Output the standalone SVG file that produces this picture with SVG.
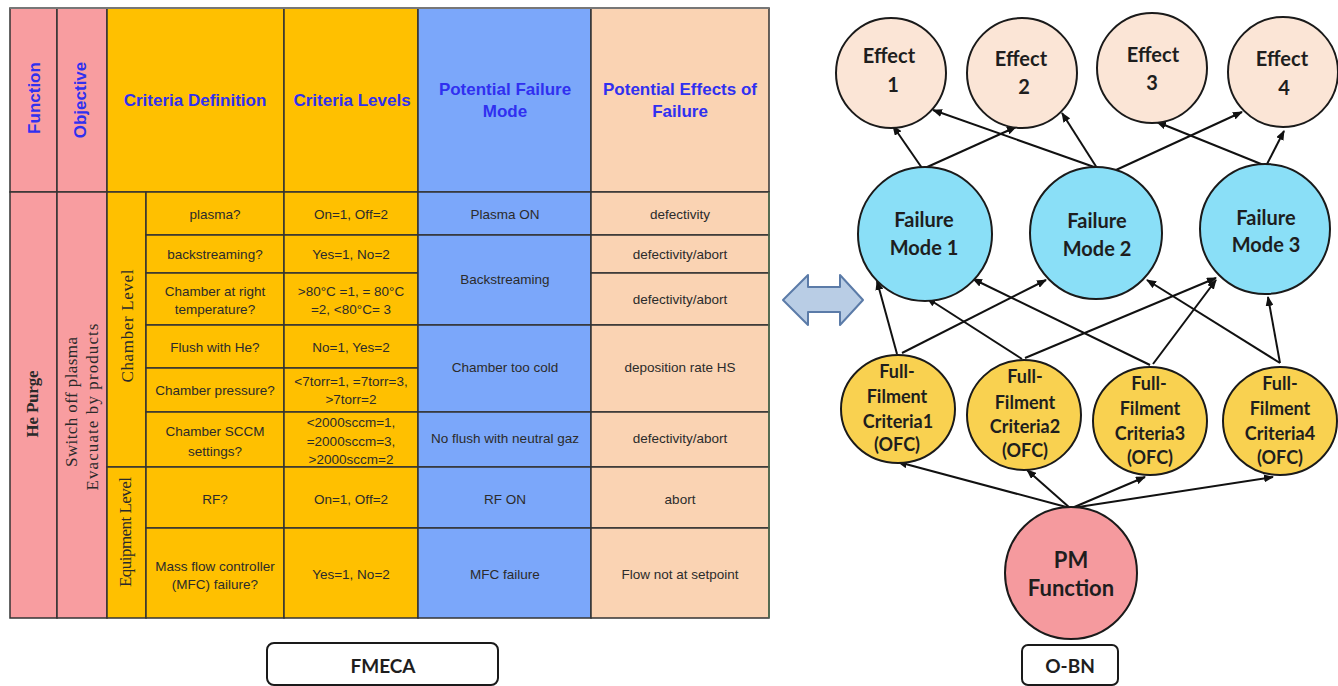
<svg xmlns="http://www.w3.org/2000/svg" width="1338" height="686" viewBox="0 0 1338 686">
<defs>
<style>
.pink{fill:#F89DA0;stroke:#333;stroke-width:1.5}
.gold{fill:#FFC000;stroke:#333;stroke-width:1.5}
.blue{fill:#7BA7FA;stroke:#333;stroke-width:1.5}
.peach{fill:#FAD3B3;stroke:#333;stroke-width:1.5}
.hdr{font-family:"Liberation Sans",Arial,sans-serif;font-weight:bold;font-size:17px;fill:#3030F0;text-anchor:middle}
.cell{font-family:"Liberation Sans",Arial,sans-serif;font-size:13.5px;fill:#2b2b2b;text-anchor:middle}
.rot{font-family:"Liberation Serif","Times New Roman",serif;font-size:17px;fill:#2a2a2a;text-anchor:middle}
.node{stroke:#1a1a1a;stroke-width:2}
.nt{font-family:Lato,"Noto Sans",sans-serif;font-weight:bold;fill:#1e1e1e;text-anchor:middle}
.eff{fill:#FBE5D6}
.fm{fill:#8ADFF7}
.fc{fill:#F9D150}
.pm{fill:#F59A9E}
.edge{stroke:#111;stroke-width:2;fill:none;marker-end:url(#ah)}
.lbl{fill:#fff;stroke:#1a1a1a;stroke-width:2}
</style>
<marker id="ah" markerUnits="userSpaceOnUse" markerWidth="10" markerHeight="8" refX="9" refY="4" orient="auto">
<path d="M0,0 L10,4 L0,8 z" fill="#111"/>
</marker>
</defs>
<rect width="1338" height="686" fill="#fff"/>

<g id="fmeca-table">
<rect class="pink" x="10" y="8" width="47" height="184"/>
<rect class="pink" x="57" y="8" width="50" height="184"/>
<rect class="gold" x="107" y="8" width="177" height="184"/>
<rect class="gold" x="284" y="8" width="134" height="184"/>
<rect class="blue" x="418" y="8" width="173" height="184"/>
<rect class="peach" x="591" y="8" width="178" height="184"/>
<text class="hdr" transform="translate(40,98) rotate(-90)">Function</text>
<text class="hdr" transform="translate(86,100) rotate(-90)">Objective</text>
<text class="hdr" x="195" y="106">Criteria Definition</text>
<text class="hdr" x="352" y="106">Criteria Levels</text>
<text class="hdr" x="505" y="95">Potential Failure</text>
<text class="hdr" x="505" y="117">Mode</text>
<text class="hdr" x="680" y="95">Potential Effects of</text>
<text class="hdr" x="680" y="117">Failure</text>

<rect class="pink" x="10" y="192" width="47" height="426"/>
<rect class="pink" x="57" y="192" width="50" height="426"/>
<rect class="gold" x="107" y="192" width="39" height="275"/>
<rect class="gold" x="107" y="467" width="39" height="151"/>
<text class="rot" font-weight="bold" font-size="16" textLength="67" transform="translate(38,404) rotate(-90)">He Purge</text>
<text class="rot" textLength="130" transform="translate(77,402) rotate(-90)">Switch off plasma</text>
<text class="rot" textLength="167" transform="translate(98,407) rotate(-90)">Evacuate by products</text>
<text class="rot" textLength="113" transform="translate(133,326) rotate(-90)">Chamber Level</text>
<text class="rot" textLength="110" transform="translate(131,532) rotate(-90)">Equipment Level</text>

<rect class="gold" x="146" y="192" width="138" height="43"/>
<rect class="gold" x="284" y="192" width="134" height="43"/>
<rect class="gold" x="146" y="235" width="138" height="38"/>
<rect class="gold" x="284" y="235" width="134" height="38"/>
<rect class="gold" x="146" y="273" width="138" height="52"/>
<rect class="gold" x="284" y="273" width="134" height="52"/>
<rect class="gold" x="146" y="325" width="138" height="43"/>
<rect class="gold" x="284" y="325" width="134" height="43"/>
<rect class="gold" x="146" y="368" width="138" height="44"/>
<rect class="gold" x="284" y="368" width="134" height="44"/>
<rect class="gold" x="146" y="412" width="138" height="55"/>
<rect class="gold" x="284" y="412" width="134" height="55"/>
<rect class="gold" x="146" y="467" width="138" height="61"/>
<rect class="gold" x="284" y="467" width="134" height="61"/>
<rect class="gold" x="146" y="528" width="138" height="90"/>
<rect class="gold" x="284" y="528" width="134" height="90"/>

<text class="cell" x="215" y="219">plasma?</text>
<text class="cell" x="351" y="219">On=1, Off=2</text>
<text class="cell" x="215" y="259">backstreaming?</text>
<text class="cell" x="351" y="259">Yes=1, No=2</text>
<text class="cell" x="215" y="296">Chamber at right</text>
<text class="cell" x="215" y="314">temperature?</text>
<text class="cell" x="351" y="296">&gt;80°C =1, = 80°C</text>
<text class="cell" x="351" y="314">=2, &lt;80°C= 3</text>
<text class="cell" x="215" y="352">Flush with He?</text>
<text class="cell" x="351" y="352">No=1, Yes=2</text>
<text class="cell" x="215" y="395">Chamber pressure?</text>
<text class="cell" x="351" y="386">&lt;7torr=1, =7torr=3,</text>
<text class="cell" x="351" y="404">&gt;7torr=2</text>
<text class="cell" x="215" y="436">Chamber SCCM</text>
<text class="cell" x="215" y="456">settings?</text>
<text class="cell" x="351" y="427">&lt;2000sccm=1,</text>
<text class="cell" x="351" y="446">=2000sccm=3,</text>
<text class="cell" x="351" y="464">&gt;2000sccm=2</text>
<text class="cell" x="215" y="504">RF?</text>
<text class="cell" x="351" y="504">On=1, Off=2</text>
<text class="cell" x="215" y="571">Mass flow controller</text>
<text class="cell" x="215" y="589">(MFC) failure?</text>
<text class="cell" x="351" y="579">Yes=1, No=2</text>

<rect class="blue" x="418" y="192" width="173" height="43"/>
<rect class="blue" x="418" y="235" width="173" height="90"/>
<rect class="blue" x="418" y="325" width="173" height="87"/>
<rect class="blue" x="418" y="412" width="173" height="55"/>
<rect class="blue" x="418" y="467" width="173" height="61"/>
<rect class="blue" x="418" y="528" width="173" height="90"/>
<text class="cell" x="505" y="219">Plasma ON</text>
<text class="cell" x="505" y="284">Backstreaming</text>
<text class="cell" x="505" y="372">Chamber too cold</text>
<text class="cell" x="505" y="443">No flush with neutral gaz</text>
<text class="cell" x="505" y="504">RF ON</text>
<text class="cell" x="505" y="579">MFC failure</text>

<rect class="peach" x="591" y="192" width="178" height="43"/>
<rect class="peach" x="591" y="235" width="178" height="38"/>
<rect class="peach" x="591" y="273" width="178" height="52"/>
<rect class="peach" x="591" y="325" width="178" height="87"/>
<rect class="peach" x="591" y="412" width="178" height="55"/>
<rect class="peach" x="591" y="467" width="178" height="61"/>
<rect class="peach" x="591" y="528" width="178" height="90"/>
<text class="cell" x="680" y="219">defectivity</text>
<text class="cell" x="680" y="259">defectivity/abort</text>
<text class="cell" x="680" y="304">defectivity/abort</text>
<text class="cell" x="680" y="372">deposition rate HS</text>
<text class="cell" x="680" y="443">defectivity/abort</text>
<text class="cell" x="680" y="504">abort</text>
<text class="cell" x="680" y="579">Flow not at setpoint</text>
<line x1="769" y1="192" x2="769" y2="618" stroke="#4f6f4f" stroke-width="1.5"/>
<line x1="10" y1="8" x2="769" y2="8" stroke="#777" stroke-width="2"/>
</g>

<g id="fmeca-label">
<rect class="lbl" x="267" y="643" width="231" height="42" rx="7"/>
<text class="nt" x="383" y="673" font-size="19">FMECA</text>
</g>

<g id="double-arrow">
<path d="M783,300 L808,275 L808,287 L840,287 L840,275 L863,300 L840,325 L840,312 L808,312 L808,325 Z" fill="#B9CDE5" stroke="#5B7BA8" stroke-width="2" stroke-linejoin="round"/>
</g>

<g id="connectors">
<line class="edge" x1="922" y1="168" x2="893" y2="126"/>
<line class="edge" x1="925" y1="168" x2="1016" y2="127"/>
<line class="edge" x1="1097" y1="168" x2="933" y2="110"/>
<line class="edge" x1="1097" y1="168" x2="1062" y2="113"/>
<line class="edge" x1="1116" y1="170" x2="1242" y2="112"/>
<line class="edge" x1="1266" y1="166" x2="1157" y2="122"/>
<line class="edge" x1="1266" y1="166" x2="1284" y2="131"/>

<line class="edge" x1="897" y1="354" x2="877" y2="281"/>
<line class="edge" x1="902" y1="353" x2="1046" y2="280"/>
<line class="edge" x1="1022" y1="359" x2="927" y2="298"/>
<line class="edge" x1="1025" y1="358" x2="1216" y2="278"/>
<line class="edge" x1="1150" y1="365" x2="973" y2="279"/>
<line class="edge" x1="1153" y1="364" x2="1216" y2="280"/>
<line class="edge" x1="1280" y1="363" x2="1147" y2="280"/>
<line class="edge" x1="1280" y1="363" x2="1268" y2="297"/>

<line class="edge" x1="1070" y1="508" x2="898" y2="462"/>
<line class="edge" x1="1070" y1="508" x2="1027" y2="470"/>
<line class="edge" x1="1072" y1="508" x2="1145" y2="477"/>
<line class="edge" x1="1072" y1="508" x2="1273" y2="477"/>
</g>

<g id="effect1"><circle class="node eff" cx="891" cy="73" r="55"/><text class="nt" font-size="20" x="889" y="63">Effect</text><text class="nt" font-size="20" x="893" y="92">1</text></g>
<g id="effect2"><circle class="node eff" cx="1022" cy="73" r="55"/><text class="nt" font-size="20" x="1021" y="66">Effect</text><text class="nt" font-size="20" x="1024" y="94">2</text></g>
<g id="effect3"><circle class="node eff" cx="1152" cy="68" r="55"/><text class="nt" font-size="20" x="1153" y="62">Effect</text><text class="nt" font-size="20" x="1152" y="90">3</text></g>
<g id="effect4"><circle class="node eff" cx="1283" cy="72" r="55"/><text class="nt" font-size="20" x="1282" y="66">Effect</text><text class="nt" font-size="20" x="1284" y="95">4</text></g>

<g id="failure-mode1"><circle class="node fm" cx="925" cy="234" r="67"/><text class="nt" font-size="20" x="924" y="227">Failure</text><text class="nt" font-size="20" x="924" y="255">Mode 1</text></g>
<g id="failure-mode2"><circle class="node fm" cx="1096" cy="233" r="66"/><text class="nt" font-size="20" x="1097" y="228">Failure</text><text class="nt" font-size="20" x="1097" y="256">Mode 2</text></g>
<g id="failure-mode3"><circle class="node fm" cx="1265" cy="229" r="65"/><text class="nt" font-size="20" x="1266" y="225">Failure</text><text class="nt" font-size="20" x="1266" y="252">Mode 3</text></g>

<g id="fc1"><ellipse class="node fc" cx="898" cy="409" rx="57" ry="54"/>
<text class="nt" font-size="18" x="897" y="378">Full-</text><text class="nt" font-size="18" x="897" y="403">Filment</text><text class="nt" font-size="18" x="898" y="428">Criteria1</text><text class="nt" font-size="18" x="897" y="451">(OFC)</text></g>
<g id="fc2"><ellipse class="node fc" cx="1024" cy="415" rx="57" ry="55"/>
<text class="nt" font-size="18" x="1025" y="383">Full-</text><text class="nt" font-size="18" x="1025" y="409">Filment</text><text class="nt" font-size="18" x="1025" y="433">Criteria2</text><text class="nt" font-size="18" x="1025" y="457">(OFC)</text></g>
<g id="fc3"><ellipse class="node fc" cx="1150" cy="421" rx="57" ry="54"/>
<text class="nt" font-size="18" x="1149" y="390">Full-</text><text class="nt" font-size="18" x="1150" y="415">Filment</text><text class="nt" font-size="18" x="1150" y="440">Criteria3</text><text class="nt" font-size="18" x="1150" y="464">(OFC)</text></g>
<g id="fc4"><ellipse class="node fc" cx="1280" cy="421" rx="57" ry="54"/>
<text class="nt" font-size="18" x="1280" y="390">Full-</text><text class="nt" font-size="18" x="1280" y="415">Filment</text><text class="nt" font-size="18" x="1280" y="440">Criteria4</text><text class="nt" font-size="18" x="1280" y="464">(OFC)</text></g>

<g id="pm-function"><circle class="node pm" cx="1071" cy="573" r="66"/><text class="nt" font-size="22" x="1071" y="568">PM</text><text class="nt" font-size="22" x="1071" y="596">Function</text></g>

<g id="obn-label">
<rect class="lbl" x="1022" y="645" width="96" height="40" rx="6"/>
<text class="nt" x="1070" y="673" font-size="19">O-BN</text>
</g>
</svg>
